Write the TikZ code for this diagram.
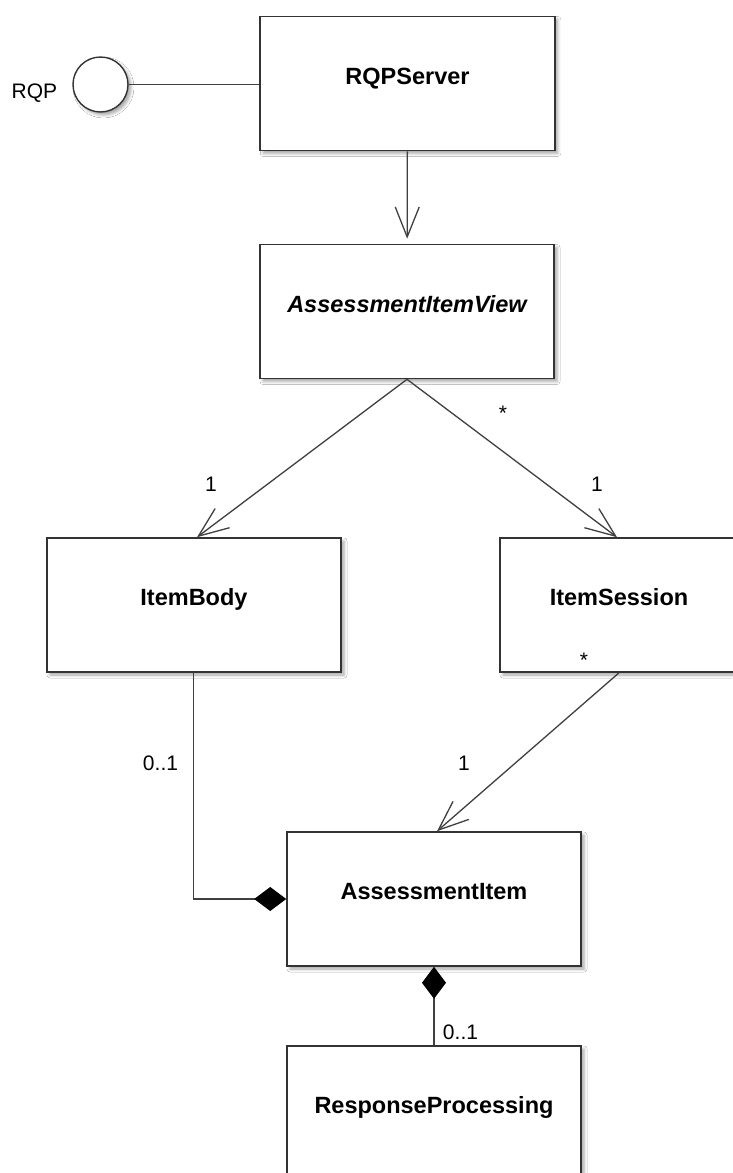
\documentclass[tikz,border=0pt]{standalone}
\usepackage{fontspec}
\setmainfont{Liberation Sans}
\usetikzlibrary{arrows.meta,shadows.blur}

\tikzset{
  umlclass/.style={draw=black!80, line width=1.6pt, fill=white,
    minimum width=294pt, minimum height=134pt, inner sep=0pt,
    font=\fontsize{23.5}{26}\selectfont\bfseries,
    text height=17pt, text depth=16pt,
    blur shadow={shadow xshift=3pt, shadow yshift=-3pt,
      shadow blur radius=3pt, shadow opacity=35}},
  iface/.style={circle, draw=black!80, line width=1.4pt, fill=white,
    minimum size=55pt, inner sep=0pt,
    blur shadow={shadow xshift=3pt, shadow yshift=-3pt,
      shadow blur radius=3pt, shadow opacity=35}},
  link/.style={draw=black!75, line width=1.3pt},
  nav/.style={-{Straight Barb[length=30pt,width=24pt]}},
  compend/.style={-{Diamond[length=32pt,width=24pt,color=black]}},
  compstart/.style={{Diamond[length=32pt,width=24pt,color=black]}-},
  mult/.style={inner sep=0pt, anchor=base, text=black,
    font=\fontsize{21}{24}\selectfont},
}

\begin{document}
\begin{tikzpicture}[x=1pt, y=-1pt]
  \fill[white] (0,0) rectangle (732,1173);
  \useasboundingbox (0,0) rectangle (732,1173);

  % provided interface
  \node[iface] (rqp) at (100.5,84.5) {};
  \node[mult] (rqplabel) at (34.5,98) {RQP};

  % classes
  \node[umlclass, minimum width=294.5pt] (srv) at (407.5,83.5) {RQPServer};
  \node[umlclass] (aiv) at (407,311.5) {\itshape AssessmentItemView};
  \node[umlclass] (ib) at (194,605) {ItemBody};
  \node[umlclass, minimum width=238pt] (is) at (619,605) {ItemSession};
  \node[umlclass] (ai) at (434,899) {AssessmentItem};
  \node[umlclass] (rp) at (434,1113) {ResponseProcessing};

  % associations
  \draw[link] (rqp) -- (rqp -| srv.west);
  \draw[link, nav, shorten >=5pt] (srv) -- (aiv);
  \draw[link, nav] (aiv.south) -- ([xshift=3pt]ib.north);
  \draw[link, nav] (aiv.south) -- ([xshift=-2pt]is.north);
  \draw[link, nav] (is.south) -- ([xshift=3pt]ai.north);

  % compositions
  \draw[link, compend] ([xshift=-0.5pt]ib.south) |- (ai.west);
  \draw[link, compstart] (ai.south) -- (rp.north);

  % multiplicities
  \node[mult] (m1) at (503,420) {*};
  \node[mult] (m2) at (211,491) {1};
  \node[mult] (m3) at (597,491) {1};
  \node[mult] (m4) at (584,667) {*};
  \node[mult] (m5) at (160.5,770) {0..1};
  \node[mult] (m6) at (464,770) {1};
  \node[mult] (m7) at (460.5,1039) {0..1};
\end{tikzpicture}
\end{document}
